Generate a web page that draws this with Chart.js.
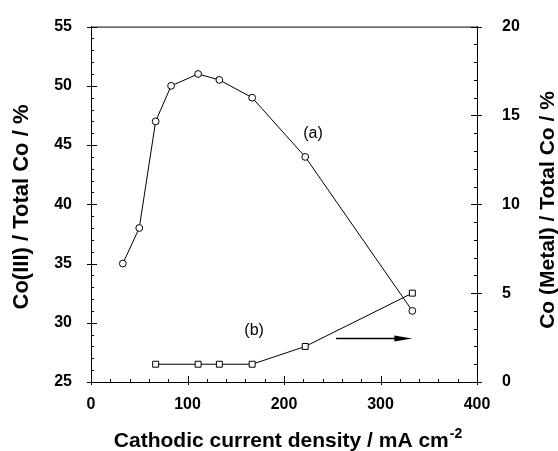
<!DOCTYPE html>
<html>
<head>
<meta charset="utf-8">
<script src="https://cdn.jsdelivr.net/npm/chart.js@4.4.1/dist/chart.umd.min.js"></script>
<style>
  html, body { margin: 0; padding: 0; background: #fff; }
  #wrap { width: 558px; height: 451px; }
</style>
</head>
<body>
<div id="wrap"><canvas id="myChart" width="558" height="451"></canvas></div>
<script>
// current density (mA cm-2)
const densA = [33, 50, 67, 83, 111, 133, 167, 222, 333];
const coIII = [35, 38, 47, 50, 51, 50.5, 49, 44, 31];
const densB = [67, 111, 133, 167, 222, 333];
const coMetal = [1, 1, 1, 1, 2, 5];

const xTicks = [0, 100, 200, 300, 400];
const leftTicks = [25, 30, 35, 40, 45, 50, 55];
const rightTicks = [0, 5, 10, 15, 20];

const tituloX = 'Cathodic current density / mA cm';
const tituloXexp = '-2';
const tituloIzq = 'Co(III) / Total Co / %';
const tituloDer = 'Co (Metal) / Total Co / %';

const fnt = "'Liberation Sans', Arial, sans-serif";

function pares(xs, ys) {
    return xs.map((x, i) => ({ x: x, y: ys[i] }));
}

function textoVertical(ctx, txt, x, y) {
    ctx.save();
    ctx.translate(x, y);
    ctx.rotate(-Math.PI / 2);
    ctx.fillText(txt, 0, 0);
    ctx.restore();
}

// tick marks inside the box + frame + titles + labels (a), (b) and the arrow
const marcas = {
    id: 'marcas',
    afterDraw(chart) {
        const ctx = chart.ctx;
        const a = chart.chartArea;
        const x = chart.scales.x, y = chart.scales.y, y2 = chart.scales.y2;
        ctx.save();
        ctx.strokeStyle = '#000';
        ctx.lineWidth = 1;
        ctx.beginPath();
        ctx.moveTo(a.left, a.top + 0.5);
        ctx.lineTo(a.right, a.top + 0.5);
        for (let v = 0; v <= 400; v += 20) {
            let px = Math.round(x.getPixelForValue(v)) + 0.5;
            let big = v % 100 == 0;
            ctx.moveTo(px, a.bottom + (big ? 3 : 0));
            ctx.lineTo(px, a.bottom - (big ? 6 : 3));
        }
        for (let v = 25; v <= 55; v++) {
            let py = Math.round(y.getPixelForValue(v)) + 0.5;
            let big = v % 5 == 0;
            ctx.moveTo(a.left - (big ? 4 : 0), py);
            ctx.lineTo(a.left + (big ? 6 : 3), py);
        }
        for (let v = 0; v <= 20; v++) {
            let py = Math.round(y2.getPixelForValue(v)) + 0.5;
            let big = v % 5 == 0;
            ctx.moveTo(a.right + (big ? 5 : 0), py);
            ctx.lineTo(a.right - (big ? 6 : 3), py);
        }
        ctx.stroke();

        ctx.fillStyle = '#000';
        ctx.textAlign = 'center';
        ctx.textBaseline = 'middle';

        // axis titles, both reading bottom to top
        ctx.font = 'bold 22px ' + fnt;
        textoVertical(ctx, tituloIzq, 22, 207);
        ctx.font = 'bold 21px ' + fnt;
        textoVertical(ctx, tituloDer, 548, 210);

        // x title with superscript
        ctx.textAlign = 'left';
        ctx.textBaseline = 'alphabetic';
        ctx.font = 'bold 21px ' + fnt;
        let w1 = ctx.measureText(tituloX).width;
        ctx.font = 'bold 14px ' + fnt;
        let w2 = ctx.measureText(tituloXexp).width;
        let sx = 288 - (w1 + w2 + 1) / 2;
        ctx.font = 'bold 21px ' + fnt;
        ctx.fillText(tituloX, sx, 447);
        ctx.font = 'bold 14px ' + fnt;
        ctx.fillText(tituloXexp, sx + w1 + 1, 438);

        ctx.textAlign = 'center';
        ctx.textBaseline = 'middle';
        ctx.font = '16px ' + fnt;
        ctx.fillText('(a)', x.getPixelForValue(230), y.getPixelForValue(46));
        ctx.fillText('(b)', x.getPixelForValue(169), y2.getPixelForValue(2.87));

        // arrow pointing to the right axis
        let ay = Math.round(y2.getPixelForValue(2.48)) + 0.5;
        let x0 = x.getPixelForValue(254), x1 = x.getPixelForValue(333);
        ctx.lineWidth = 1.5;
        ctx.beginPath();
        ctx.moveTo(x0, ay);
        ctx.lineTo(x1 - 14, ay);
        ctx.stroke();
        ctx.beginPath();
        ctx.moveTo(x1, ay);
        ctx.lineTo(x1 - 18, ay - 3);
        ctx.lineTo(x1 - 18, ay + 3);
        ctx.closePath();
        ctx.fill();
        ctx.restore();
    }
};

function graficar() {
    let ctx = document.getElementById('myChart');
    const data = {
        datasets: [{
            label: '(a)',
            data: pares(densA, coIII),
            yAxisID: 'y',
            showLine: true,
            borderColor: '#000',
            borderWidth: 1,
            pointStyle: 'circle',
            pointRadius: 3.4,
            pointBorderWidth: 1,
            pointBackgroundColor: '#fff',
            pointBorderColor: '#000'
        }, {
            label: '(b)',
            data: pares(densB, coMetal),
            yAxisID: 'y2',
            showLine: true,
            borderColor: '#000',
            borderWidth: 1,
            pointStyle: 'rect',
            pointRadius: 4.2,
            pointBorderWidth: 1,
            pointBackgroundColor: '#fff',
            pointBorderColor: '#000'
        }]
    };
    const config = {
        type: 'scatter',
        data: data,
        plugins: [marcas],
        options: {
            responsive: false,
            animation: false,
            layout: { padding: { top: 19, left: 0, right: 0, bottom: 0 } },
            plugins: { legend: { display: false }, tooltip: { enabled: false } },
            scales: {
                x: {
                    type: 'linear', min: 0, max: 400,
                    afterBuildTicks: s => { s.ticks = xTicks.map(v => ({ value: v })); },
                    afterFit: s => { s.height = 69; },
                    grid: { display: false },
                    border: { display: true, color: '#000', width: 1 },
                    ticks: { color: '#000', padding: 5, maxRotation: 0, font: { family: fnt, size: 16, weight: 'bold' } }
                },
                y: {
                    type: 'linear', position: 'left', min: 25, max: 55,
                    afterBuildTicks: s => { s.ticks = leftTicks.map(v => ({ value: v })); },
                    afterFit: s => { s.width = 91; },
                    grid: { display: false },
                    border: { display: true, color: '#000', width: 1 },
                    ticks: { color: '#000', padding: 11, font: { family: fnt, size: 16, weight: 'bold' } }
                },
                y2: {
                    type: 'linear', position: 'right', min: 0, max: 20,
                    afterBuildTicks: s => { s.ticks = rightTicks.map(v => ({ value: v })); },
                    afterFit: s => { s.width = 81; },
                    grid: { display: false },
                    border: { display: true, color: '#000', width: 1 },
                    ticks: { color: '#000', padding: 17, font: { family: fnt, size: 16, weight: 'bold' } }
                }
            }
        }
    };
    new Chart(ctx, config);
}
graficar();
</script>
</body>
</html>
